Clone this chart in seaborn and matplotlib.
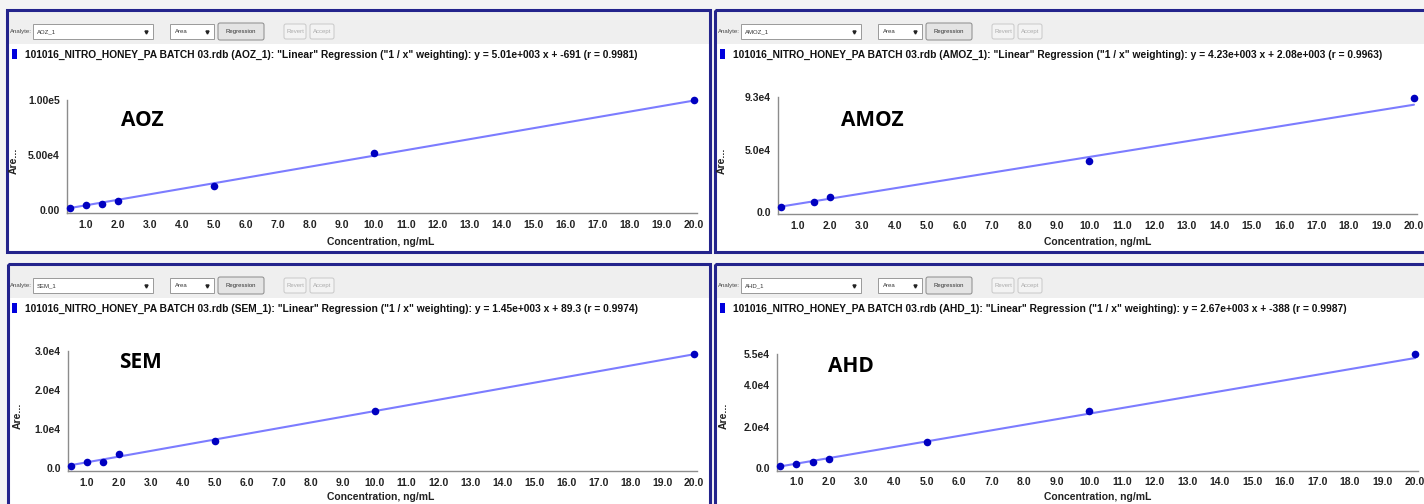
import numpy as np
import pandas as pd
import matplotlib.pyplot as plt
import seaborn as sns
from matplotlib.patches import Rectangle, FancyBboxPatch

# values
analytes = ['AOZ', 'AMOZ', 'SEM', 'AHD']
conc_aoz = [0.5, 1.0, 1.5, 2.0, 5.0, 10.0, 20.0]
area_aoz = [1500, 4500, 5500, 8200, 22100, 52100, 99800]
conc_amoz = [0.5, 1.5, 2.0, 10.0, 20.0]
area_amoz = [4000, 8200, 11600, 41000, 92400]
conc_sem = [0.5, 1.0, 1.5, 2.0, 5.0, 10.0, 20.0]
area_sem = [600, 1700, 1700, 3550, 7050, 14650, 29100]
conc_ahd = [0.5, 1.0, 1.5, 2.0, 5.0, 10.0, 20.0]
area_ahd = [1100, 1900, 3200, 4500, 12800, 27700, 54900]

slopes = [5010, 4230, 1450, 2670]
intercepts = [-691, 2080, 89.3, -388]
eq_text = ['5.01e+003 x + -691', '4.23e+003 x + 2.08e+003',
           '1.45e+003 x + 89.3', '2.67e+003 x + -388']
r_text = ['0.9981', '0.9963', '0.9974', '0.9987']

ytick_vals = [[0, 50000, 100000], [0, 50000, 93000],
              [0, 10000, 20000, 30000], [0, 20000, 40000, 55000]]
ytick_labels = [['0.00', '5.00e4', '1.00e5'], ['0.0', '5.0e4', '9.3e4'],
                ['0.0', '1.0e4', '2.0e4', '3.0e4'], ['0.0', '2.0e4', '4.0e4', '5.5e4']]
xtick_vals = [1.0, 2.0, 3.0, 4.0, 5.0, 6.0, 7.0, 8.0, 9.0, 10.0,
              11.0, 12.0, 13.0, 14.0, 15.0, 16.0, 17.0, 18.0, 19.0, 20.0]

concs = [conc_aoz, conc_amoz, conc_sem, conc_ahd]
areas = [area_aoz, area_amoz, area_sem, area_ahd]

sns.set_style('white')
ui_font = ['Liberation Sans', 'DejaVu Sans']
big_font = ['Open Sans', 'Lato', 'DejaVu Sans']
plt.rcParams['font.family'] = ui_font

W, H = 1424, 504
fig = plt.figure(figsize=(W / 100, H / 100), dpi=100, facecolor='#f4f4f4')
bg = fig.add_axes([0, 0, 1, 1])
bg.set_xlim(0, W)
bg.set_ylim(H, 0)
bg.axis('off')

# layout in pixels
frames = [(7, 10, 710, 252), (715, 10, 1432, 252), (8, 264, 710, 520), (715, 264, 1432, 520)]
offsets = [(0, 0), (708, 0), (0, 254), (708, 254)]
ax_boxes = [(66.8, 100.0, 697.2, 213.0), (777.8, 96.9, 1417.2, 214.2),
            (67.8, 350.7, 697.2, 470.7), (776.7, 353.9, 1418.3, 470.5)]
ymins = [-2700, -2000, -610, -1000]
big_pos = [(142, 121), (872, 121), (140, 362), (851, 366)]
ylab_x = [14, 722, 18, 724]

frame_col = '#24248c'
for i in range(4):
    x0, y0, x1, y1 = frames[i]
    dx, dy = offsets[i]
    bg.add_patch(Rectangle((x0, y0), x1 - x0, y1 - y0, facecolor='white', edgecolor='none', zorder=1))
    bg.add_patch(Rectangle((x0, y0), x1 - x0, 34, facecolor='#efefef', edgecolor='none', zorder=1))
    bg.add_patch(Rectangle((x0, y0), x1 - x0, y1 - y0, facecolor='none', edgecolor=frame_col,
                           linewidth=2.2, zorder=5))

    # toolbar
    bg.text(10 + dx, 32 + dy, 'Analyte:', fontsize=4.3, color='#444444', va='center')
    bg.add_patch(Rectangle((33 + dx, 24 + dy), 120, 15, facecolor='white', edgecolor='#9a9a9a', lw=0.7, zorder=2))
    bg.text(37 + dx, 31.5 + dy, analytes[i] + '_1', fontsize=4.3, color='#333333', va='center', zorder=3)
    bg.plot([146 + dx], [31.5 + dy], marker='v', ms=2.2, color='#222222', zorder=3)
    bg.add_patch(Rectangle((170 + dx, 24 + dy), 44, 15, facecolor='white', edgecolor='#9a9a9a', lw=0.7, zorder=2))
    bg.text(175 + dx, 31.5 + dy, 'Area', fontsize=4.3, color='#333333', va='center', zorder=3)
    bg.plot([207 + dx], [31.5 + dy], marker='v', ms=2.2, color='#222222', zorder=3)
    bg.add_patch(FancyBboxPatch((218 + dx, 23 + dy), 46, 17, boxstyle='round,pad=0,rounding_size=2',
                                facecolor='#e4e4e4', edgecolor='#8a8a8a', lw=0.7, zorder=2))
    bg.text(241 + dx, 31.5 + dy, 'Regression', fontsize=4.3, color='#333333', ha='center', va='center', zorder=3)
    for bx, bw, lab in [(284, 22, 'Revert'), (310, 24, 'Accept')]:
        bg.add_patch(FancyBboxPatch((bx + dx, 24 + dy), bw, 15, boxstyle='round,pad=0,rounding_size=2',
                                    facecolor='#f3f3f3', edgecolor='#c8c8c8', lw=0.7, zorder=2))
        bg.text(bx + bw / 2 + dx, 31.5 + dy, lab, fontsize=4.3, color='#ababab', ha='center', va='center', zorder=3)

    # regression title line
    bg.add_patch(Rectangle((12 + dx, 49 + dy), 5, 10, facecolor='#0000dd', edgecolor='none', zorder=2))
    title = ('101016_NITRO_HONEY_PA BATCH 03.rdb (%s_1): "Linear" Regression ("1 / x" weighting): '
             'y = %s (r = %s)' % (analytes[i], eq_text[i], r_text[i]))
    bg.text(25 + dx, 54.5 + dy, title, fontsize=7.4, fontweight='bold', color='#111111', va='center', zorder=3)

    # big analyte label
    bx, by = big_pos[i]
    bg.text(bx, by, analytes[i], fontsize=15, fontweight='bold', family=big_font,
            color='black', ha='center', va='center', zorder=6)

    # the chart itself
    l, t, r, b = ax_boxes[i]
    ax = fig.add_axes([l / W, 1 - b / H, (r - l) / W, (b - t) / H])
    ax.set_facecolor('none')
    df = pd.DataFrame({'conc': concs[i], 'area': areas[i]})
    xs = [min(concs[i]), max(concs[i])]
    fit = pd.DataFrame({'conc': xs, 'area': [slopes[i] * x + intercepts[i] for x in xs]})
    sns.lineplot(data=fit, x='conc', y='area', ax=ax, color='#7c7cff', lw=1.5, zorder=2)
    sns.scatterplot(data=df, x='conc', y='area', ax=ax, color='#0000c0', s=30,
                    edgecolor='#0000c0', linewidth=0, zorder=3, clip_on=False)
    ax.set_xlim(0.4, 20.1)
    ax.set_ylim(ymins[i], ytick_vals[i][-1])
    ax.set_xticks(xtick_vals)
    ax.set_xticklabels(['%.1f' % v for v in xtick_vals])
    ax.set_xticks(np.arange(0.5, 20.01, 0.5), minor=True)
    ax.set_yticks(ytick_vals[i])
    ax.set_yticklabels(ytick_labels[i])
    for s in ['top', 'right']:
        ax.spines[s].set_visible(False)
    for s in ['left', 'bottom']:
        ax.spines[s].set_color('#8c8c8c')
        ax.spines[s].set_linewidth(1.0)
    ax.tick_params(axis='both', which='major', direction='out', length=3, width=0.8,
                   color='#8c8c8c', labelsize=7.5, labelcolor='#222222', pad=2)
    ax.tick_params(axis='x', which='minor', direction='out', length=2, width=0.6, color='#8c8c8c')
    ax.tick_params(axis='y', which='minor', length=0)
    for lab in ax.get_xticklabels() + ax.get_yticklabels():
        lab.set_fontweight('bold')
    ax.set_xlabel('Concentration, ng/mL', fontsize=7.5, fontweight='bold', color='#222222')
    ax.set_ylabel('Are...', fontsize=7.5, fontweight='bold', color='#222222')
    label_y = 242 if i < 2 else 497
    ax.xaxis.set_label_coords(((381 if i % 2 == 0 else 1098) - l) / (r - l), -(label_y - b) / (b - t))
    ax.yaxis.set_label_coords((ylab_x[i] - l) / (r - l), 1 - ((161 if i < 2 else 416) - t) / (b - t))
    ax.xaxis.label.set_va('center')
    ax.yaxis.label.set_va('center')

fig.savefig('out.png', dpi=100, facecolor=fig.get_facecolor())
